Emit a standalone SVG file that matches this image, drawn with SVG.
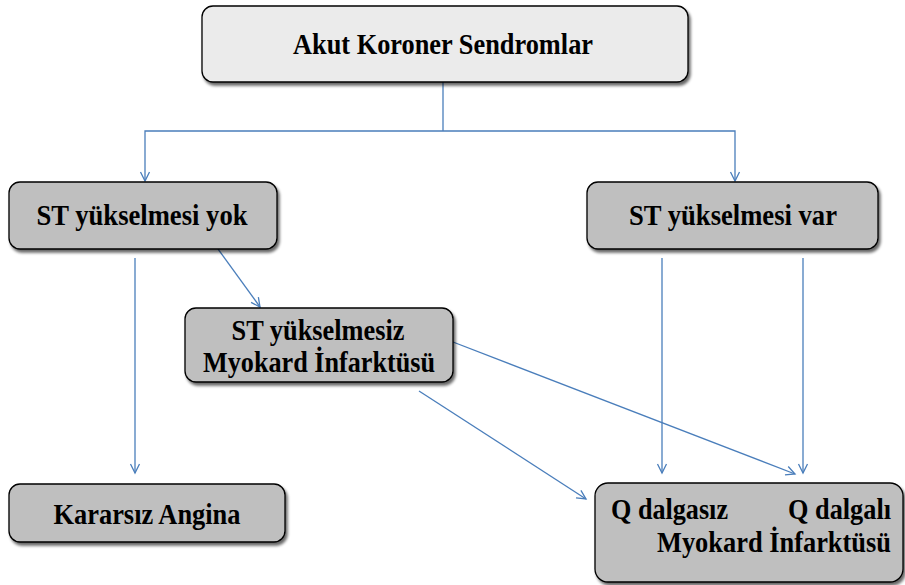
<svg xmlns="http://www.w3.org/2000/svg" width="905" height="585" viewBox="0 0 905 585">
<defs>
<filter id="sh" x="-10%" y="-10%" width="125%" height="140%">
<feGaussianBlur in="SourceAlpha" stdDeviation="1.5"/>
<feOffset dx="1.5" dy="3" result="o"/>
<feComponentTransfer><feFuncA type="linear" slope="0.6"/></feComponentTransfer>
<feMerge><feMergeNode/><feMergeNode in="SourceGraphic"/></feMerge>
</filter>
<marker id="ar" viewBox="0 0 12 12" refX="10" refY="6" markerWidth="12" markerHeight="12" markerUnits="userSpaceOnUse" orient="auto">
<path d="M1,1.5 L10,6 L1,10.5" fill="none" stroke="#4A7EBB" stroke-width="1.3"/>
</marker>
</defs>
<style>
.box{stroke:#000;stroke-width:1.3;filter:url(#sh)}
.top{fill:#EBEBEB}
.gr{fill:#BFBFBF}
text{font-family:"Liberation Serif","Times New Roman",serif;font-weight:bold;font-size:29px;fill:#000}
.c{text-anchor:middle}
.e{text-anchor:end}
.ln{fill:none;stroke:#4A7EBB;stroke-width:1.3}
.ln.a{marker-end:url(#ar)}
</style>
<g id="connectors">
<polyline class="ln" points="443,82 443,131"/>
<polyline class="ln a" points="443,131 145,131 145,181"/>
<polyline class="ln a" points="443,131 735,131 735,181"/>
<line class="ln a" x1="135" y1="258" x2="135" y2="473"/>
<line class="ln a" x1="218" y1="249" x2="260" y2="307"/>
<line class="ln a" x1="453" y1="342" x2="795" y2="474"/>
<line class="ln a" x1="419" y1="391" x2="586" y2="499"/>
<line class="ln a" x1="662" y1="258" x2="662" y2="473"/>
<line class="ln a" x1="803" y1="258" x2="803" y2="473"/>
</g>
<g id="n-acs">
<rect class="box top" x="202" y="6" width="486" height="76" rx="11"/>
<text class="c" x="443" y="54" textLength="300" lengthAdjust="spacingAndGlyphs">Akut Koroner Sendromlar</text>
</g>
<g id="n-st-yok">
<rect class="box gr" x="9" y="182" width="268" height="67" rx="11"/>
<text class="c" x="142" y="225" textLength="211" lengthAdjust="spacingAndGlyphs">ST yükselmesi yok</text>
</g>
<g id="n-st-var">
<rect class="box gr" x="587" y="182" width="291" height="67" rx="11"/>
<text class="c" x="733" y="225" textLength="208" lengthAdjust="spacingAndGlyphs">ST yükselmesi var</text>
</g>
<g id="n-nstemi">
<rect class="box gr" x="185" y="308" width="268" height="74" rx="11"/>
<text class="c" x="318" y="340" textLength="173" lengthAdjust="spacingAndGlyphs">ST yükselmesiz</text>
<text class="c" x="319" y="372" textLength="232" lengthAdjust="spacingAndGlyphs">Myokard İnfarktüsü</text>
</g>
<g id="n-ka">
<rect class="box gr" x="9" y="484" width="276" height="58" rx="11"/>
<text class="c" x="147" y="524" textLength="187" lengthAdjust="spacingAndGlyphs">Kararsız Angina</text>
</g>
<g id="n-mi">
<rect class="box gr" x="595" y="483" width="308" height="99" rx="13"/>
<text x="611" y="519" textLength="117" lengthAdjust="spacingAndGlyphs">Q dalgasız</text>
<text class="e" x="891" y="519" textLength="103" lengthAdjust="spacingAndGlyphs">Q dalgalı</text>
<text class="e" x="891" y="552" textLength="234" lengthAdjust="spacingAndGlyphs">Myokard İnfarktüsü</text>
</g>
</svg>
